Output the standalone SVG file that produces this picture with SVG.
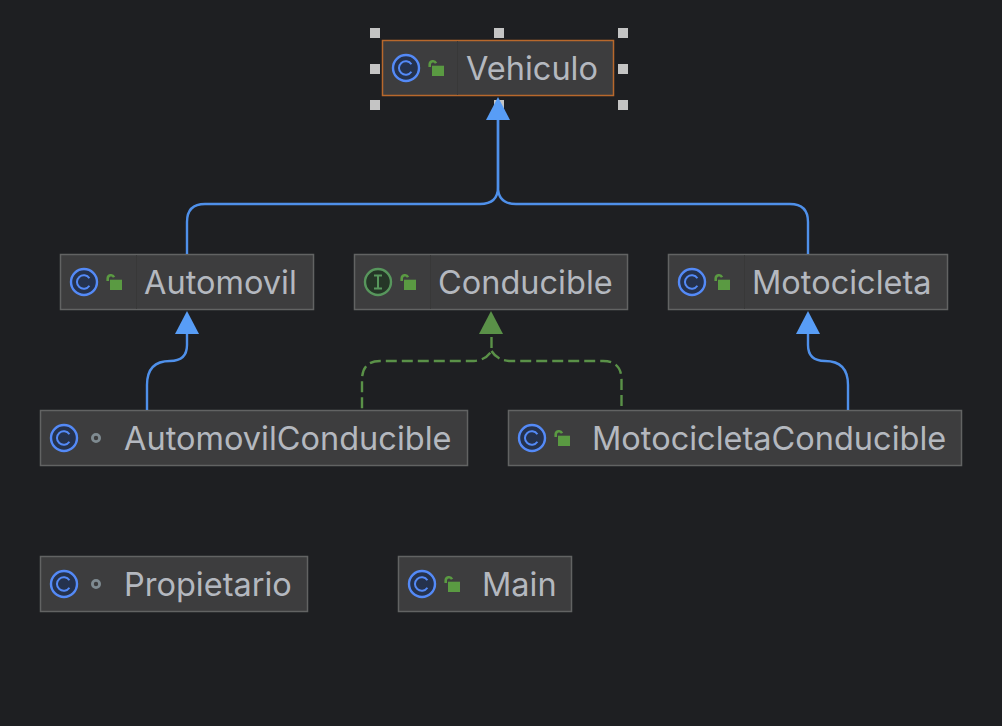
<svg xmlns="http://www.w3.org/2000/svg" width="1002" height="726" viewBox="0 0 1002 726">
<style>
.box{fill:#3d3d3e;stroke:#626363;stroke-width:1.5}
.sel{stroke:#b8682c}
.div{stroke:#383838;stroke-width:1}
.lbl{font-family:Inter,"Noto Sans",sans-serif;font-size:32.5px;fill:#b4b8bf}
.hdl{fill:#c4c4c4}
.ext{fill:none;stroke:#4f90ea;stroke-width:2.4}
.impl{fill:none;stroke:#5a9148;stroke-width:2.4;stroke-dasharray:11 5}
</style>
<defs>
<g id="ic-c"><circle r="13" fill="#25324d" stroke="#548af7" stroke-width="2.4"/><path d="M5.400 -3.800A6.800 6.800 0 1 0 5.400 3.800" fill="none" stroke="#548af7" stroke-width="2"/></g>
<g id="ic-i"><circle r="13" fill="#253627" stroke="#57965c" stroke-width="2.400"/><path d="M-4 -6.500H4M-4 6.500H4M0 -6.500V6.500" fill="none" stroke="#57965c" stroke-width="2"/></g>
<g id="ic-lock"><rect x="26" y="-2.300" width="12" height="10.300" fill="#5a9a42"/><path d="M23.700 -1V-3.500A3.300 3.300 0 0 1 30 -4.800" fill="none" stroke="#5a9a42" stroke-width="2.600"/></g>
<circle id="ic-dot" cx="32" cy="0" r="3.600" fill="none" stroke="#7f8b91" stroke-width="2.800"/>
</defs>
<rect width="1002" height="726" fill="#1e1f22"/>
<g id="node-vehiculo">
<rect class="box sel" x="382.500" y="40.500" width="231" height="55"/>
<path class="div" d="M457.500 41V95"/>
<use href="#ic-c" x="406" y="68"/><use href="#ic-lock" x="406" y="68"/>
<text class="lbl" x="466" y="80">Vehiculo</text>
<g class="hdl"><rect x="370" y="28" width="10" height="10"/><rect x="494" y="28" width="10" height="10"/><rect x="618" y="28" width="10" height="10"/><rect x="370" y="64" width="10" height="10"/><rect x="618" y="64" width="10" height="10"/><rect x="370" y="100" width="10" height="10"/><rect x="494" y="100" width="10" height="10"/><rect x="618" y="100" width="10" height="10"/></g>
</g>
<g id="node-automovil">
<rect class="box" x="60.500" y="254.500" width="253" height="55"/>
<path class="div" d="M136.500 255V309"/>
<use href="#ic-c" x="84" y="282"/><use href="#ic-lock" x="84" y="282"/>
<text class="lbl" x="144" y="294">Automovil</text>
</g>
<g id="node-conducible">
<rect class="box" x="354.500" y="254.500" width="273" height="55"/>
<path class="div" d="M430.500 255V309"/>
<use href="#ic-i" x="378" y="282"/><use href="#ic-lock" x="378" y="282"/>
<text class="lbl" x="438" y="294">Conducible</text>
</g>
<g id="node-motocicleta">
<rect class="box" x="668.500" y="254.500" width="279" height="55"/>
<path class="div" d="M744.500 255V309"/>
<use href="#ic-c" x="692" y="282"/><use href="#ic-lock" x="692" y="282"/>
<text class="lbl" x="752" y="294">Motocicleta</text>
</g>
<g id="node-automovilconducible">
<rect class="box" x="40.500" y="410.500" width="427" height="55"/>
<use href="#ic-c" x="64" y="438"/><use href="#ic-dot" x="64" y="438"/>
<text class="lbl" x="124" y="450">AutomovilConducible</text>
</g>
<g id="node-motocicletaconducible">
<rect class="box" x="508.500" y="410.500" width="453" height="55"/>
<use href="#ic-c" x="532" y="438"/><use href="#ic-lock" x="532" y="438"/>
<text class="lbl" x="592" y="450">MotocicletaConducible</text>
</g>
<g id="node-propietario">
<rect class="box" x="40.500" y="556.500" width="267" height="55"/>
<use href="#ic-c" x="64" y="584"/><use href="#ic-dot" x="64" y="584"/>
<text class="lbl" x="124" y="596">Propietario</text>
</g>
<g id="node-main">
<rect class="box" x="398.500" y="556.500" width="173" height="55"/>
<use href="#ic-c" x="422" y="584"/><use href="#ic-lock" x="422" y="584"/>
<text class="lbl" x="482" y="596">Main</text>
</g>
<g id="connectors">
<path class="ext" d="M498 118V187Q498 204 480 204H205Q187 204 187 222V254"/>
<path class="ext" d="M498 118V187Q498 204 516 204H790Q808 204 808 222V254"/>
<path class="ext" d="M187 333V345Q187 361 170 361Q147 361 147 385V410"/>
<path class="ext" d="M808 333V345Q808 361 825 361Q848 361 848 385V410"/>
<path class="impl" d="M491.500 337V351Q486 360 474 361H380Q362 361 362 380V410"/>
<path class="impl" d="M491.500 351Q497 360 509 361H603Q621.500 361 621.500 380V410"/>
<path d="M498 97L510 120H486Z" fill="#589df6"/>
<path d="M187 311L199 334H175Z" fill="#589df6"/>
<path d="M808 311L820 334H796Z" fill="#589df6"/>
<path d="M491 311L503 334H479Z" fill="#5a9148"/>
</g>
</svg>
